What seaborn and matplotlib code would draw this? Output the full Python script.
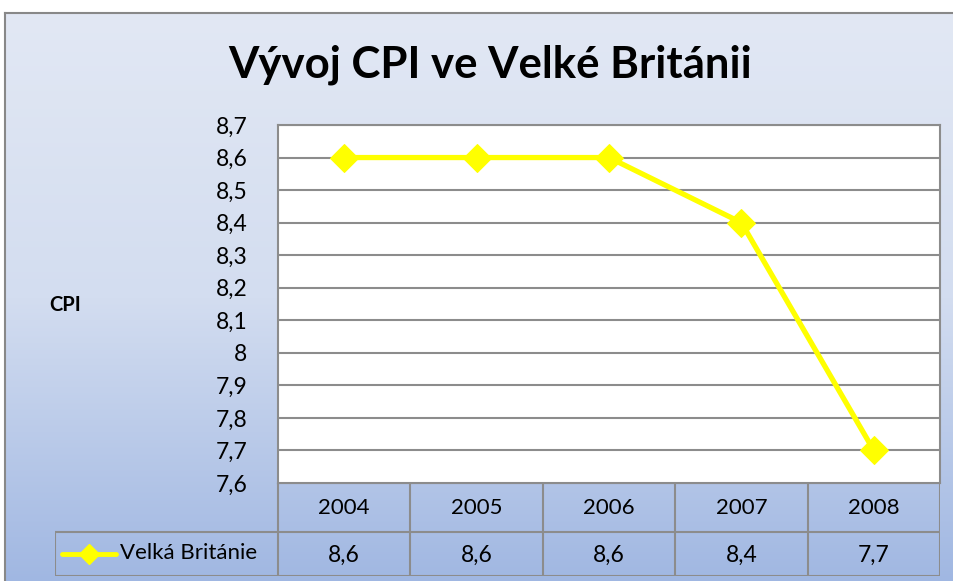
import numpy as np
import matplotlib.pyplot as plt
import seaborn as sns
from matplotlib.colors import LinearSegmentedColormap
from matplotlib.lines import Line2D

years = ["2004", "2005", "2006", "2007", "2008"]
cpi = [8.6, 8.6, 8.6, 8.4, 7.7]
series_name = "Velká Británie"
yticks = [7.6, 7.7, 7.8, 7.9, 8.0, 8.1, 8.2, 8.3, 8.4, 8.5, 8.6, 8.7]

sns.set_style("white")
plt.rcParams['font.family'] = ['Lato', 'DejaVu Sans']
plt.rcParams['text.color'] = 'black'
plt.rcParams['ytick.color'] = 'black'

W, H = 954, 581
fig = plt.figure(figsize=(W / 100, H / 100), dpi=100)
fig.patch.set_facecolor("white")

def px(x0, y0, x1, y1):
    return [x0 / W, 1 - y1 / H, (x1 - x0) / W, (y1 - y0) / H]

# gradient background of the chart area
bg = fig.add_axes(px(5, 13, W + 2, H + 2))
cmap = LinearSegmentedColormap.from_list("bg", ["#E2E8F4", "#D3DDF0", "#A0B7E2"])
bg.imshow(np.linspace(0, 1, 256).reshape(-1, 1), aspect="auto", cmap=cmap,
          extent=[0, 1, 0, 1], origin="upper")
bg.set_xlim(0, 1)
bg.set_ylim(0, 1)
bg.set_xticks([])
bg.set_yticks([])
for side in ["left", "top"]:
    bg.spines[side].set_color("#888888")
    bg.spines[side].set_linewidth(1.5)
for side in ["right", "bottom"]:
    bg.spines[side].set_visible(False)

# main plot
ax = fig.add_axes(px(278, 125, 940, 483))
ax.set_facecolor("white")
x = np.arange(len(years))
sns.lineplot(x=x, y=cpi, ax=ax, color="#FFFF00", linewidth=3.8, marker="D",
             markersize=14, markeredgecolor="#FFFF00", zorder=3)
ax.set_xlim(-0.5, len(years) - 0.5)
ax.set_ylim(7.6, 8.7)
ax.set_yticks(yticks)
ax.set_yticklabels([f"{v:g}".replace(".", ",") for v in yticks], fontsize=16.5)
ax.set_xticks([])
ax.tick_params(axis="y", length=0, pad=22, labelcolor="black")
for v in yticks[1:]:
    ax.axhline(v, color="#8C8C8C", linewidth=1.5, zorder=1)
for side in ax.spines:
    ax.spines[side].set_color("#8C8C8C")
    ax.spines[side].set_linewidth(1.5)

fig.text(490 / W, 1 - 65 / H, "Vývoj CPI ve Velké Británii", fontsize=31.5,
         fontweight="bold", ha="center", va="center", color="black")
fig.text(65 / W, 1 - 305 / H, "CPI", fontsize=14.5, fontweight="bold",
         ha="center", va="center", color="black")

# data table under the plot
tab = fig.add_axes(px(55, 483, 940, 576))
tab.set_xlim(55, 940)
tab.set_ylim(576, 483)
tab.axis("off")
col_edges = np.linspace(278, 940, len(years) + 1)
grid_kw = dict(color="#8C8C8C", linewidth=1.5)
tab.plot([278, 940], [483, 483], **grid_kw)
tab.plot([55, 940], [532, 532], **grid_kw)
tab.plot([55, 940], [576, 576], **grid_kw)
tab.plot([55, 55], [532, 576], **grid_kw)
for e in col_edges:
    tab.plot([e, e], [483, 576], **grid_kw)
for i, (yr, val) in enumerate(zip(years, cpi)):
    cx = (col_edges[i] + col_edges[i + 1]) / 2
    tab.text(cx, 508, yr, fontsize=16, ha="center", va="center", color="black")
    tab.text(cx, 555, f"{val:g}".replace(".", ","), fontsize=16.5,
             ha="center", va="center", color="black")
tab.add_line(Line2D([62, 116], [554, 554], color="#FFFF00", linewidth=3.5))
tab.plot([89], [554], marker="D", markersize=10, color="#FFFF00")
tab.text(120, 553, series_name, fontsize=16, ha="left", va="center", color="black")

plt.savefig("out.png", dpi=100)
